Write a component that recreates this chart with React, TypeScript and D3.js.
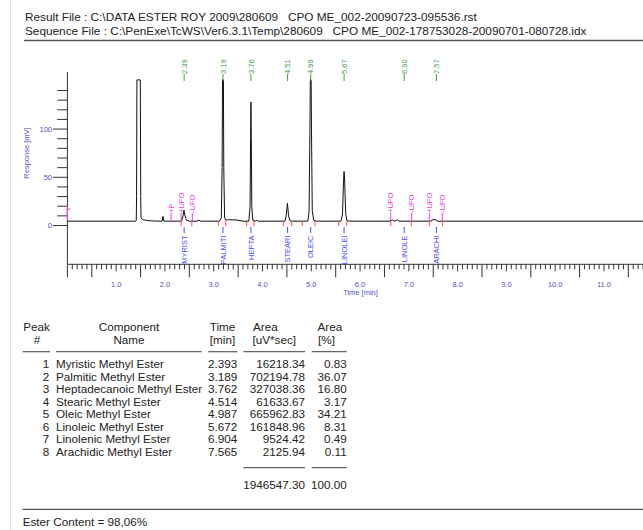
import React from 'react';
import * as d3 from 'd3';

// ---------- header ----------
const resultFile = 'Result File : C:\\DATA ESTER ROY 2009\\280609   CPO ME_002-20090723-095536.rst';
const sequenceFile = 'Sequence File : C:\\PenExe\\TcWS\\Ver6.3.1\\Temp\\280609   CPO ME_002-178753028-20090701-080728.idx';

// ---------- peak table ----------
const peakNumbers = [1, 2, 3, 4, 5, 6, 7, 8];
const componentNames = [
  'Myristic Methyl Ester',
  'Palmitic Methyl Ester',
  'Heptadecanoic Methyl Ester',
  'Stearic Methyl Ester',
  'Oleic Methyl Ester',
  'Linoleic Methyl Ester',
  'Linolenic Methyl Ester',
  'Arachidic Methyl Ester',
];
const retentionTimes = [2.393, 3.189, 3.762, 4.514, 4.987, 5.672, 6.904, 7.565];
const peakAreas = [16218.34, 702194.78, 327038.36, 61633.67, 665962.83, 161848.96, 9524.42, 2125.94];
const areaPercents = [0.83, 36.07, 16.8, 3.17, 34.21, 8.31, 0.49, 0.11];
const totalArea = 1946547.3;
const totalPercent = 100.0;
const esterContent = 'Ester Content = 98,06%';

// ---------- chromatogram annotations ----------
const rtLabels = ['2.39', '3.19', '3.76', '4.51', '4.99', '5.67', '6.90', '7.57'];
const shortLabels = ['MYRIST', 'PALMITI', 'HEPTA', 'STEARI', 'OLEIC', 'LINOLEI', 'LINOLE', 'ARACHI'];
const peakStarts = [2.33, 3.094, 3.676, 4.426, 4.816, 5.562, 6.63, 7.42];
const peakEnds = [2.55, 3.245, 3.825, 4.598, 5.076, 5.726, 7.05, 7.69];
const eventTimes = [2.124, 2.33, 2.56, 6.628, 7.058, 7.419, 7.686];
const eventLabels = ['+P', '+UFO', '-UFO', '+UFO', '-UFO', '+UFO', '-UFO'];

// ---------- axes ----------
const yTickValues = [0, 10, 20, 30, 40, 50, 60, 70, 80, 90, 100, 110, 120, 130, 140];
const yTickLabels = ['0', '50', '100'];
const xTickLabels = ['1.0', '2.0', '3.0', '4.0', '5.0', '6.0', '7.0', '8.0', '9.0', '10.0', '11.0'];

// ---------- trace (time [min], response [mV]) ----------
const traceTimes = [
  0, 1.40, 1.412, 1.418, 1.425, 1.495, 1.503, 1.51, 1.53, 1.56, 1.62, 1.70, 1.80,
  1.94, 1.96, 1.975, 2.10, 2.34, 2.37, 2.39, 2.41, 2.44, 2.50, 2.65, 2.70, 2.73,
  3.12, 3.155, 3.172, 3.18, 3.198, 3.206, 3.222, 3.25, 3.30, 3.45, 3.60,
  3.72, 3.745, 3.755, 3.762, 3.77, 3.78, 3.80, 3.85, 3.88, 3.91,
  4.46, 4.485, 4.51, 4.535, 4.56, 4.60,
  4.93, 4.955, 4.972, 4.98, 4.996, 5.004, 5.02, 5.05, 5.10,
  5.61, 5.64, 5.66, 5.672, 5.685, 5.705, 5.73, 5.78,
  6.62, 6.66, 6.70, 6.76, 6.80,
  7.46, 7.48, 7.56, 7.58, 12,
];
const traceValues = [
  4.5, 4.5, 5.5, 30, 151, 151, 30, 8, 6.5, 5.8, 5.3, 4.9, 4.6,
  4.5, 9.5, 4.5, 4.5, 4.5, 10, 16, 10, 5.5, 4.5, 4.5, 5.5, 4.5,
  4.5, 8, 60, 151, 151, 60, 8, 5.5, 6, 5.8, 4.5,
  4.5, 20, 90, 128, 90, 20, 5.5, 4.5, 5.3, 4.5,
  4.5, 10, 23, 10, 5, 4.5,
  4.5, 15, 100, 151, 151, 100, 15, 5.5, 4.5,
  4.5, 12, 45, 56, 45, 12, 5, 4.5,
  4.5, 5.8, 4.5, 5.8, 4.5,
  4.5, 6, 6, 4.5, 4.5,
];

const FONT = '"Liberation Sans", Arial, sans-serif';
const AXIS_TEXT = '#5b4fc4';
const GREEN = '#3e9e3e';
const MAGENTA = '#e040e0';
const BLUE = '#4b4bff';
const RED = '#ff4b4b';

export default function App() {
  const x = d3.scaleLinear().domain([0, 12]).range([67.4, 67.4 + 12 * 48.78]);
  const y = d3.scaleLinear().domain([0, 140]).range([225.5, 90.5]);

  const points: [number, number][] = traceTimes.map((t, i) => [t, traceValues[i]]);
  const line = d3
    .line<[number, number]>()
    .x((d) => x(d[0]))
    .y((d) => y(d[1]));

  const baselineY = y(4.5);
  const xAxisY = 264.3;
  const minorTicks = d3.range(0, 121).map((i) => i / 10);

  const tableFont = 11.7;
  const rowY0 = 368;
  const rowStep = 12.5;
  const underlineSegs: [number, number][] = [
    [22.7, 50],
    [56, 201.7],
    [208.3, 237.3],
    [243.3, 305],
    [311.7, 346.7],
  ];

  return (
    <div style={{ position: 'absolute', left: 0, top: 0 }}>
      <svg width={643} height={530} style={{ display: 'block', fontFamily: FONT }}>
        <rect x={0} y={0} width={643} height={530} fill="#fff" />
        <line x1={10.5} y1={0} x2={10.5} y2={530} stroke="#cdebcd" strokeWidth={1} />

        {/* header */}
        <text x={25} y={20.5} fontSize={11.8} fill="#222" style={{ whiteSpace: 'pre' }}>
          {resultFile}
        </text>
        <text x={25} y={34.5} fontSize={11.8} fill="#222" style={{ whiteSpace: 'pre' }}>
          {sequenceFile}
        </text>
        <line x1={24} y1={40.5} x2={643} y2={40.5} stroke="#555" strokeWidth={1.3} />

        {/* y axis */}
        <line x1={x(0)} y1={72} x2={x(0)} y2={xAxisY} stroke="#333" strokeWidth={1} />
        {yTickValues.map((v) => {
          const major = v % 50 === 0;
          return (
            <line
              key={'yt' + v}
              x1={major ? 53 : 57.3}
              y1={y(v)}
              x2={x(0)}
              y2={y(v)}
              stroke="#333"
              strokeWidth={1}
            />
          );
        })}
        {yTickLabels.map((l) => (
          <text
            key={'yl' + l}
            x={52}
            y={y(+l) + 2.7}
            fontSize={7.5}
            fill={AXIS_TEXT}
            textAnchor="end"
          >
            {l}
          </text>
        ))}
        <text
          transform={`translate(29,153) rotate(-90)`}
          fontSize={7.5}
          fill={AXIS_TEXT}
          textAnchor="middle"
        >
          Response [mV]
        </text>

        {/* x axis */}
        <line x1={x(0)} y1={xAxisY} x2={643} y2={xAxisY} stroke="#333" strokeWidth={1} />
        {minorTicks.map((t, i) => {
          const len = i % 5 === 0 ? (i % 10 === 0 ? 7 : 13) : 5;
          const len2 = i === 0 ? 13 : len;
          return (
            <line
              key={'xt' + i}
              x1={x(t)}
              y1={xAxisY}
              x2={x(t)}
              y2={xAxisY + len2}
              stroke="#333"
              strokeWidth={1}
            />
          );
        })}
        {xTickLabels.map((l) => (
          <text
            key={'xl' + l}
            x={x(+l)}
            y={287}
            fontSize={7.5}
            fill={AXIS_TEXT}
            textAnchor="middle"
          >
            {l}
          </text>
        ))}
        <text x={360.5} y={294.5} fontSize={7.5} fill={AXIS_TEXT} textAnchor="middle">
          Time [min]
        </text>

        {/* left start marker */}
        <line x1={x(0)} y1={206} x2={x(0)} y2={baselineY} stroke={MAGENTA} strokeWidth={1.2} />
        <line x1={x(0)} y1={209} x2={x(0) + 3} y2={209} stroke={MAGENTA} strokeWidth={1} />

        {/* trace */}
        <path d={line(points) || ''} fill="none" stroke="#111" strokeWidth={1} />

        {/* peak start/end ticks */}
        {peakStarts.map((t, i) => (
          <g key={'pse' + i}>
            <line x1={x(t)} y1={baselineY} x2={x(t)} y2={baselineY + 5} stroke={RED} strokeWidth={1} />
            <line x1={x(peakEnds[i])} y1={baselineY} x2={x(peakEnds[i])} y2={baselineY + 5} stroke={RED} strokeWidth={1} />
          </g>
        ))}

        {/* integration events */}
        {eventTimes.map((t, i) => (
          <g key={'ev' + i}>
            <line x1={x(t)} y1={213} x2={x(t)} y2={baselineY} stroke={MAGENTA} strokeWidth={1} />
            <text
              transform={`translate(${x(t) + 2.6},213) rotate(-90)`}
              fontSize={7.5}
              fill={MAGENTA}
            >
              {eventLabels[i]}
            </text>
          </g>
        ))}

        {/* retention time labels */}
        {retentionTimes.map((t, i) => (
          <g key={'rt' + i}>
            <line x1={x(t)} y1={74} x2={x(t)} y2={81} stroke={GREEN} strokeWidth={1} />
            <text
              transform={`translate(${x(t) + 2.6},74) rotate(-90)`}
              fontSize={7.5}
              fill={GREEN}
            >
              {rtLabels[i]}
            </text>
          </g>
        ))}

        {/* component labels */}
        {retentionTimes.map((t, i) => (
          <g key={'cl' + i}>
            <line x1={x(t)} y1={227} x2={x(t)} y2={233} stroke={BLUE} strokeWidth={1} />
            <text
              transform={`translate(${x(t) + 2.6},235.5) rotate(-90)`}
              fontSize={7.5}
              fill={BLUE}
              textAnchor="end"
            >
              {shortLabels[i]}
            </text>
          </g>
        ))}

        {/* table header */}
        <g fontSize={tableFont} fill="#222">
          <text x={36.5} y={331} textAnchor="middle">Peak</text>
          <text x={37} y={343.5} textAnchor="middle">#</text>
          <text x={129} y={331} textAnchor="middle">Component</text>
          <text x={129} y={343.5} textAnchor="middle">Name</text>
          <text x={222.5} y={331} textAnchor="middle">Time</text>
          <text x={222.5} y={343.5} textAnchor="middle">[min]</text>
          <text x={253} y={331}>Area</text>
          <text x={252.5} y={343.5}>[uV*sec]</text>
          <text x={317.5} y={331}>Area</text>
          <text x={318} y={343.5}>[%]</text>
        </g>
        {underlineSegs.map((s, i) => (
          <line key={'ul' + i} x1={s[0]} y1={351.7} x2={s[1]} y2={351.7} stroke="#666" strokeWidth={1.3} />
        ))}

        {/* table rows */}
        <g fontSize={tableFont} fill="#222">
          {peakNumbers.map((n, i) => {
            const yy = rowY0 + i * rowStep;
            return (
              <g key={'row' + i}>
                <text x={49.3} y={yy} textAnchor="end">{n}</text>
                <text x={56} y={yy}>{componentNames[i]}</text>
                <text x={237.3} y={yy} textAnchor="end">{retentionTimes[i].toFixed(3)}</text>
                <text x={305} y={yy} textAnchor="end">{peakAreas[i].toFixed(2)}</text>
                <text x={346.7} y={yy} textAnchor="end">{areaPercents[i].toFixed(2)}</text>
              </g>
            );
          })}
          <text x={305} y={488.5} textAnchor="end">{totalArea.toFixed(2)}</text>
          <text x={346.7} y={488.5} textAnchor="end">{totalPercent.toFixed(2)}</text>
          <text x={22.7} y={525.7}>{esterContent}</text>
        </g>
        <line x1={243.3} y1={467.7} x2={305} y2={467.7} stroke="#666" strokeWidth={1.3} />
        <line x1={311.7} y1={467.7} x2={346.7} y2={467.7} stroke="#666" strokeWidth={1.3} />
        <line x1={22.7} y1={509.3} x2={643} y2={509.3} stroke="#555" strokeWidth={1.3} />
      </svg>
    </div>
  );
}
